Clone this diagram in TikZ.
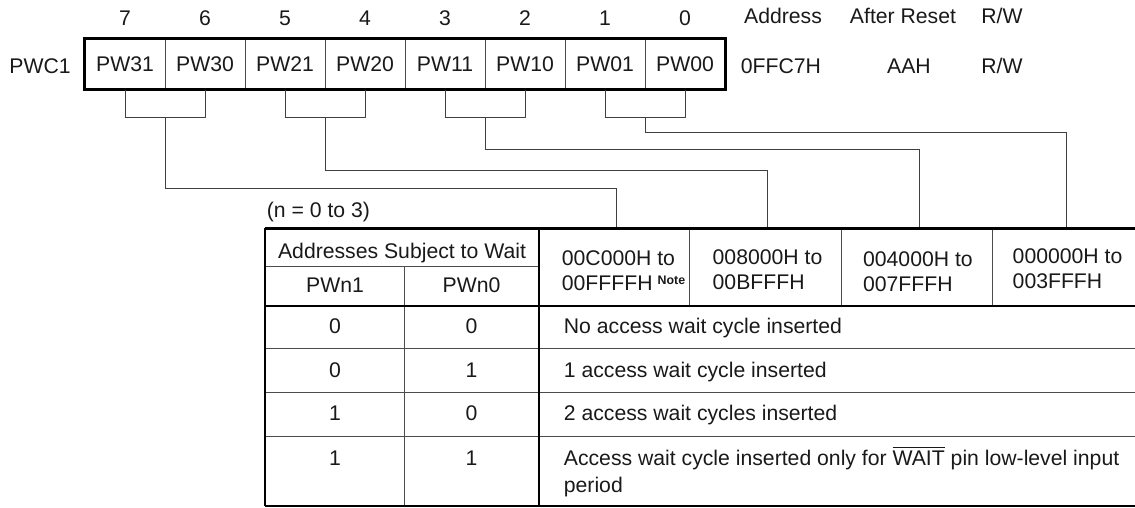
\documentclass[tikz,border=0pt]{standalone}
\usepackage{fontspec}
\setmainfont{Liberation Sans}
\usetikzlibrary{calc, positioning}

\tikzset{
  regcell/.style={draw=black!70, line width=0.5pt, minimum width=40pt, minimum height=25pt, inner sep=0pt},
  wire/.style={draw=black!75, line width=0.5pt},
  thinrule/.style={draw=black!70, line width=0.5pt},
  thickrule/.style={draw=black, line width=1.2pt},
  lefttext/.style={anchor=west, inner sep=0pt, align=left},
  basetext/.style={anchor=base, inner sep=0pt},
}

\begin{document}
\begin{tikzpicture}[x=0.5pt, y=-0.5pt, font=\fontsize{10.6}{12.4}\selectfont, text=black!90]
  \useasboundingbox (0,0) rectangle (1135,508);
  % register PWC1 and its bit numbers
  \foreach \bit/\name [count=\i from 0] in {7/PW31,6/PW30,5/PW21,4/PW20,3/PW11,2/PW10,1/PW01,0/PW00} {
    \node[regcell] (\name) at (125+80*\i,64.3) {\name};
    \node (bit\bit) at (125+80*\i,18) {\bit};
  }
  \draw[line width=1.3pt] (PW31.north west) rectangle (PW00.south east);
  \node (reg) at (40,66) {PWC1};
  % address, reset value, access
  \node (addrhd) at (783,16) {Address};
  \node (resethd) at (903,16) {After Reset};
  \node (rwhd) at (1002,16) {R/W};
  \node (addr) at (781,66) {0FFC7H};
  \node (reset) at (909,66) {AAH};
  \node (rw) at (1002,66) {R/W};

  % top ends of the wires on the table
  \coordinate (top1) at (616,228.3);
  \coordinate (top2) at (767,228.3);
  \coordinate (top3) at (919,228.3);
  \coordinate (top4) at (1066,228.3);
  % brackets under each bit pair, routed to their address column
  \foreach \hi/\lo/\lvl/\col in {PW31/PW30/188/1, PW21/PW20/170/2, PW11/PW10/150/3, PW01/PW00/133/4} {
    \draw[wire] (\hi.south) -- ++(0,27.7) coordinate (bl\col) -| (\lo.south);
    \coordinate (mid\col) at ($(bl\col)!0.5!(\lo.south |- bl\col)$);
    \draw[wire] (mid\col) -- (mid\col |- 0,\lvl) -| (top\col);
  }

  % table grid
  \draw[thinrule] (265,266.7) -- (539,266.7);
  \draw[thinrule] (404.3,266.7) -- (404.3,505.7);
  \foreach \x in {689.3,841,992.3}
    \draw[thinrule] (\x,228.3) -- (\x,305.7);
  \foreach \y in {348.5,392.8,436.3}
    \draw[thinrule] (265,\y) -- (1135,\y);
  \draw[thickrule] (265,228.3) -- (1135,228.3);
  \draw[thickrule] (265,305.7) -- (1135,305.7);
  \draw[thickrule] (265,505.7) -- (1135,505.7);
  \draw[thickrule] (265,228.3) -- (265,505.7);
  \draw[thickrule] (539,228.3) -- (539,505.7);

  % table header
  \node[lefttext] (nrange) at (266.5,212) {(n = 0 to 3)};
  \node[basetext] (addrsub) at (402,258.3) {Addresses Subject to Wait};
  \node[basetext] (pwn1) at (335,292) {PWn1};
  \node[basetext] (pwn0) at (471.5,292) {PWn0};
  \node[lefttext] (range1) at (561.5,271) {00C000H to\\00FFFFH\hspace{2.5pt}\raisebox{3.2pt}{\fontsize{6.2}{7}\selectfont\bfseries Note}};
  \node[lefttext] (range2) at (712.3,270) {008000H to\\00BFFFH};
  \node[lefttext] (range3) at (862.7,271.5) {004000H to\\007FFFH};
  \node[lefttext] (range4) at (1012.3,269) {000000H to\\003FFFH};

  % table rows
  \foreach \y/\a/\b/\txt [count=\r] in {333.5/0/0/No access wait cycle inserted,
                                        377/0/1/1 access wait cycle inserted,
                                        420/1/0/2 access wait cycles inserted} {
    \node[basetext] (pa\r) at (335,\y) {\a};
    \node[basetext] (pb\r) at (471.5,\y) {\b};
    \node[basetext, anchor=base west] (desc\r) at (563.5,\y) {\txt};
  }
  \node[basetext] (pa4) at (335,465) {1};
  \node[basetext] (pb4) at (471.5,465) {1};
  \node[basetext, anchor=base west] (desc4) at (563.5,465) {Access wait cycle inserted only for $\overline{\mbox{WAIT}}$ pin low-level input};
  \node[basetext, anchor=base west] (desc4b) at (563.5,492) {period};
\end{tikzpicture}
\end{document}
